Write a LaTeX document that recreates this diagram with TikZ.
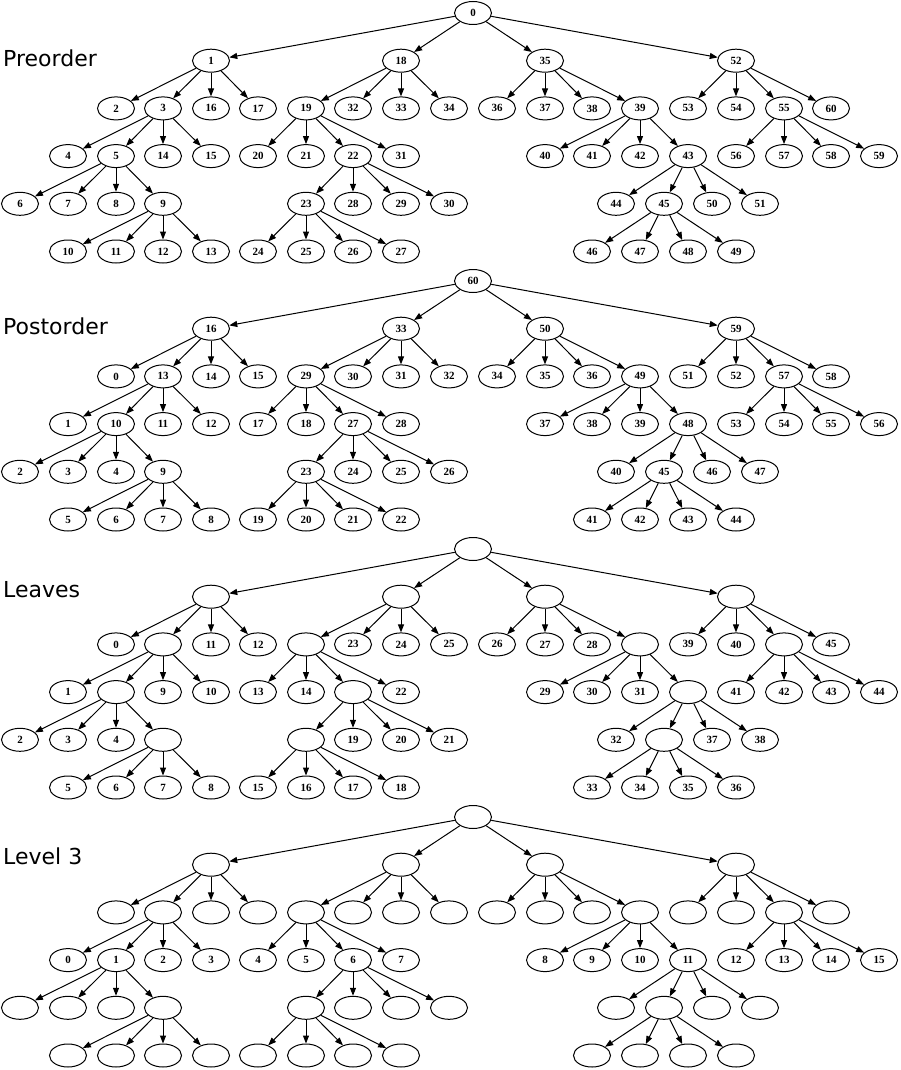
\documentclass[tikz,border=0pt]{standalone}
\usepackage{fontspec}
\usetikzlibrary{shapes.geometric,arrows.meta}
\newfontfamily\titlefont{DejaVu Sans}
\newfontfamily\numfont{Liberation Serif}
\tikzset{
  vertex/.style={draw,ellipse,minimum width=37pt,minimum height=23pt,inner sep=0pt,
    line width=1pt,font=\numfont\bfseries\fontsize{11}{11}\selectfont},
  treetitle/.style={anchor=base west,inner sep=0pt,font=\titlefont\fontsize{22}{24}\selectfont},
}
\begin{document}
\begin{tikzpicture}[x=1pt,y=-1pt]
  \useasboundingbox (0,0) rectangle (900,1070);
  \node[treetitle] (preorder) at (3,67) {Preorder};
  \node[treetitle] (postorder) at (3,334) {Postorder};
  \node[treetitle] (leaves) at (3,597) {Leaves};
  \node[treetitle] (level3) at (3,864) {Level 3};
  % id / x / depth / postorder / leaf / level 3
  \foreach \i/\x/\d/\po/\le/\lv in {
      0/473/0/60/{}/{}, 1/211/1/16/{}/{}, 2/116/2/0/0/{}, 3/163/2/13/{}/{},
      4/68/3/1/1/0, 5/116/3/10/{}/1, 6/20/4/2/2/{}, 7/68/4/3/3/{},
      8/116/4/4/4/{}, 9/163/4/9/{}/{}, 10/68/5/5/5/{}, 11/116/5/6/6/{},
      12/163/5/7/7/{}, 13/211/5/8/8/{}, 14/163/3/11/9/2, 15/211/3/12/10/3,
      16/211/2/14/11/{}, 17/258/2/15/12/{}, 18/401/1/33/{}/{}, 19/306/2/29/{}/{},
      20/258/3/17/13/4, 21/306/3/18/14/5, 22/353/3/27/{}/6, 23/306/4/23/{}/{},
      24/258/5/19/15/{}, 25/306/5/20/16/{}, 26/353/5/21/17/{}, 27/401/5/22/18/{},
      28/353/4/24/19/{}, 29/401/4/25/20/{}, 30/449/4/26/21/{}, 31/401/3/28/22/7,
      32/353/2/30/23/{}, 33/401/2/31/24/{}, 34/449/2/32/25/{}, 35/545/1/50/{}/{},
      36/497/2/34/26/{}, 37/545/2/35/27/{}, 38/592/2/36/28/{}, 39/640/2/49/{}/{},
      40/545/3/37/29/8, 41/592/3/38/30/9, 42/640/3/39/31/10, 43/688/3/48/{}/11,
      44/616/4/40/32/{}, 45/664/4/45/{}/{}, 46/592/5/41/33/{}, 47/640/5/42/34/{},
      48/688/5/43/35/{}, 49/736/5/44/36/{}, 50/712/4/46/37/{}, 51/760/4/47/38/{},
      52/736/1/59/{}/{}, 53/688/2/51/39/{}, 54/736/2/52/40/{}, 55/784/2/57/{}/{},
      56/736/3/53/41/12, 57/784/3/54/42/13, 58/831/3/55/43/14, 59/879/3/56/44/15,
      60/831/2/58/45/{}}{
    \node[vertex] (pre\i) at (\x,13+47.7*\d) {\i};
    \node[vertex] (post\i) at (\x,281+47.7*\d) {\po};
    \node[vertex] (leaf\i) at (\x,549+47.7*\d) {\le};
    \node[vertex] (lvl\i) at (\x,817+47.7*\d) {\lv};
  }
  \begin{scope}[-{Triangle[length=8pt,width=6pt]},line width=1pt]
    \foreach \t in {pre,post,leaf,lvl}
      \foreach \p/\c in {0/1,0/18,0/35,0/52, 1/2,1/3,1/16,1/17, 3/4,3/5,3/14,3/15,
          5/6,5/7,5/8,5/9, 9/10,9/11,9/12,9/13, 18/19,18/32,18/33,18/34,
          19/20,19/21,19/22,19/31, 22/23,22/28,22/29,22/30, 23/24,23/25,23/26,23/27,
          35/36,35/37,35/38,35/39, 39/40,39/41,39/42,39/43, 43/44,43/45,43/50,43/51,
          45/46,45/47,45/48,45/49, 52/53,52/54,52/55,52/60, 55/56,55/57,55/58,55/59}
        \draw (\t\p) -- (\t\c);
  \end{scope}
\end{tikzpicture}
\end{document}
